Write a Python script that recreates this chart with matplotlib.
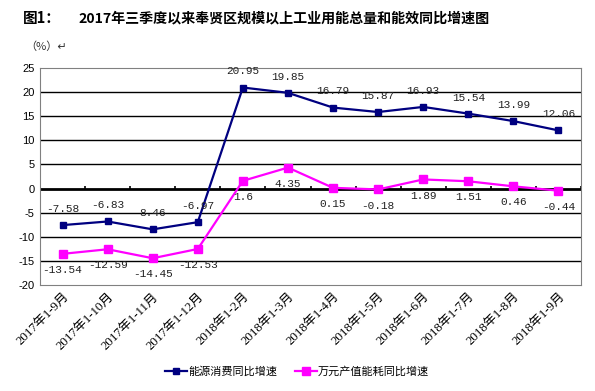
import matplotlib
matplotlib.use("Agg")
import matplotlib.pyplot as plt
import numpy as np

plt.rcParams['font.family'] = ['Liberation Serif', 'Noto Sans CJK SC']

categories = ["2017年1-9月", "2017年1-10月", "2017年1-11月", "2017年1-12月",
              "2018年1-2月", "2018年1-3月", "2018年1-4月", "2018年1-5月",
              "2018年1-6月", "2018年1-7月", "2018年1-8月", "2018年1-9月"]
energy = [-7.58, -6.83, -8.46, -6.97, 20.95, 19.85, 16.79, 15.87, 16.93, 15.54, 13.99, 12.06]
intensity = [-13.54, -12.59, -14.45, -12.53, 1.6, 4.35, 0.15, -0.18, 1.89, 1.51, 0.46, -0.44]
energy_labels = ["-7.58", "-6.83", "8.46", "-6.97", "20.95", "19.85", "16.79",
                 "15.87", "16.93", "15.54", "13.99", "12.06"]
intensity_labels = ["-13.54", "-12.59", "-14.45", "-12.53", "1.6", "4.35", "0.15",
                    "-0.18", "1.89", "1.51", "0.46", "-0.44"]
yticks = [-20, -15, -10, -5, 0, 5, 10, 15, 20, 25]

NAVY = "#000080"
PINK = "#FF00FF"

fig = plt.figure(figsize=(5.95, 3.91), dpi=100)
ax = fig.add_axes([40 / 595, 1 - 285 / 391, 541 / 595, 217 / 391])

x = np.arange(len(categories))
ax.set_xlim(-0.5, len(categories) - 0.5)
ax.set_ylim(-20, 25)

# horizontal gridlines + heavy zero axis
for y in yticks[1:-1]:
    ax.axhline(y, color="black", linewidth=1.0 if y else 2.0, zorder=1)
ax.vlines(np.arange(len(categories) + 1) - 0.5, 0, 0.5, color="black", linewidth=1.2, zorder=1)

ax.plot(x, energy, color=NAVY, linewidth=1.6, marker="s", markersize=5, zorder=3,
        label="能源消费同比增速")
ax.plot(x, intensity, color=PINK, linewidth=1.6, marker="s", markersize=6, zorder=3,
        label="万元产值能耗同比增速")

lbl_font = ["Liberation Mono"]
for xi, v, s in zip(x, energy, energy_labels):
    ax.annotate(s, (xi, v), xytext=(0, 8), textcoords="offset points",
                ha="center", va="bottom", fontsize=8, color="#222222", zorder=4,
                family=lbl_font)
for xi, v, s in zip(x, intensity, intensity_labels):
    ax.annotate(s, (xi, v), xytext=(0, -8), textcoords="offset points",
                ha="center", va="top", fontsize=8, color="#222222", zorder=4,
                family=lbl_font)

ax.set_yticks(yticks)
ax.set_yticklabels([str(t) for t in yticks], fontsize=8, family=["Liberation Sans"])
ax.set_xticks(x)
ax.set_xticklabels(categories, rotation=45, ha="right", rotation_mode="anchor", fontsize=9.3)
ax.tick_params(axis="both", length=0, pad=4)
for sp in ax.spines.values():
    sp.set_color("#808080")

fig.text(23 / 595, 1 - 18 / 391, "图1：", fontsize=10.5, fontweight="bold", va="center",
         family=["Noto Sans CJK SC"])
fig.text(78 / 595, 1 - 18 / 391, "2017年三季度以来奉贤区规模以上工业用能总量和能效同比增速图",
         fontsize=10.1, fontweight="bold", va="center", family=["Noto Sans CJK SC"])
fig.text(25 / 595, 1 - 47 / 391, "（%）↵", fontsize=8, va="center", color="#333333",
         family=["Noto Sans CJK SC", "DejaVu Sans"])

leg = fig.legend(loc="center", bbox_to_anchor=(297 / 595, 1 - 372 / 391), ncol=2,
                 frameon=False, handlelength=2.0, columnspacing=1.6,
                 handletextpad=0.1, prop={"family": ["Noto Sans CJK SC"], "size": 8})

fig.savefig("out.png", dpi=100)
